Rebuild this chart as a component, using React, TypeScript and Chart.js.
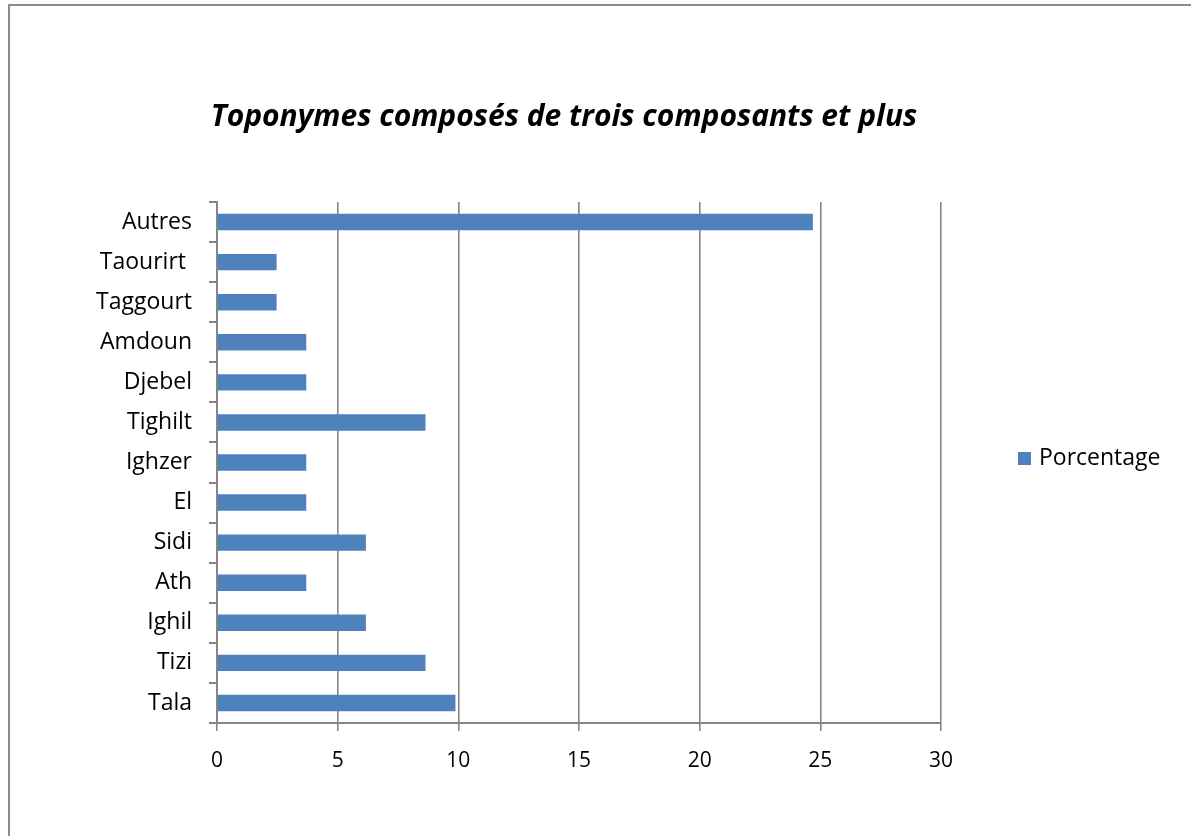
import React, { useEffect, useRef } from "react";
import { Chart, registerables } from "chart.js";

Chart.register(...registerables);

const categories = [
  "Autres",
  "Taourirt ",
  "Taggourt",
  "Amdoun",
  "Djebel",
  "Tighilt",
  "Ighzer",
  "El",
  "Sidi",
  "Ath",
  "Ighil",
  "Tizi",
  "Tala",
];
const porcentage = [24.69, 2.47, 2.47, 3.7, 3.7, 8.64, 3.7, 3.7, 6.17, 3.7, 6.17, 8.64, 9.88];
const seriesLabel = "Porcentage";
const chartTitle = "Toponymes composés de trois composants et plus";

const FONT = "'Open Sans', 'Noto Sans', sans-serif";
const GRID = "#868686";
const BAR = "#4F81BD";

const framePlugin = {
  id: "frame",
  beforeDraw(chart: any) {
    const ctx = chart.ctx;
    ctx.save();
    ctx.fillStyle = "#ffffff";
    ctx.fillRect(0, 0, chart.width, chart.height);
    ctx.strokeStyle = "#8c8c8c";
    ctx.lineWidth = 2;
    ctx.strokeRect(9, 5, chart.width + 20, chart.height + 20);
    ctx.restore();
  },
};

// centre the title over the whole frame (Excel style) rather than the padded box
const titleCenterPlugin = {
  id: "titleCenter",
  afterLayout(chart: any) {
    const tb = chart.titleBlock;
    if (tb) {
      tb.left = 0;
      tb.right = 1128;
    }
  },
};

const legendPlugin = {
  id: "sideLegend",
  afterDraw(chart: any) {
    const ctx = chart.ctx;
    const ds = chart.data.datasets[0];
    const area = chart.chartArea;
    const cy = (area.top + area.bottom) / 2 - 4;
    const x = area.right + 77;
    ctx.save();
    ctx.fillStyle = ds.backgroundColor;
    ctx.fillRect(x, cy - 6.5, 13, 13);
    ctx.fillStyle = "#000";
    ctx.font = `23px ${FONT}`;
    ctx.textBaseline = "middle";
    ctx.textAlign = "left";
    ctx.fillText(ds.label, x + 21, cy);
    ctx.restore();
  },
};

export default function App() {
  const ref = useRef<HTMLCanvasElement | null>(null);

  useEffect(() => {
    if (!ref.current) return;
    const chart = new Chart(ref.current, {
      type: "bar",
      data: {
        labels: categories,
        datasets: [
          {
            label: seriesLabel,
            data: porcentage,
            backgroundColor: BAR,
            borderWidth: 0,
            barPercentage: 0.41,
            categoryPercentage: 1,
          },
        ],
      },
      options: {
        indexAxis: "y",
        responsive: false,
        animation: false,
        layout: { padding: { left: 40, right: 250, top: 99, bottom: 53 } },
        plugins: {
          legend: { display: false },
          tooltip: { enabled: false },
          title: {
            display: true,
            text: chartTitle,
            color: "#000",
            font: { family: FONT, size: 30, style: "italic", weight: "bold" },
            padding: { top: 0, bottom: 67 },
          },
        },
        scales: {
          x: {
            min: 0,
            max: 30,
            ticks: {
              stepSize: 5,
              color: "#000",
              font: { family: FONT, size: 21 },
              padding: 17,
              maxRotation: 0,
            },
            grid: {
              color: GRID,
              lineWidth: 1.6,
              drawTicks: true,
              tickLength: 8,
              tickColor: GRID,
            },
            border: { color: GRID, width: 2 },
            afterFit(scale: any) {
              scale.height = 60;
            },
          },
          y: {
            ticks: {
              color: "#000",
              font: { family: FONT, size: 23 },
              padding: 17,
            },
            grid: {
              offset: true,
              drawOnChartArea: false,
              drawTicks: true,
              tickLength: 8,
              tickColor: GRID,
              lineWidth: 2,
            },
            border: { color: GRID, width: 2 },
            afterFit(scale: any) {
              scale.width = 177;
            },
          },
        },
      },
      plugins: [framePlugin, titleCenterPlugin, legendPlugin],
    });
    return () => chart.destroy();
  }, []);

  return (
    <div style={{ position: "absolute", left: 0, top: 0, width: 1191, height: 836 }}>
      <canvas ref={ref} width={1191} height={836} style={{ display: "block" }} />
    </div>
  );
}
